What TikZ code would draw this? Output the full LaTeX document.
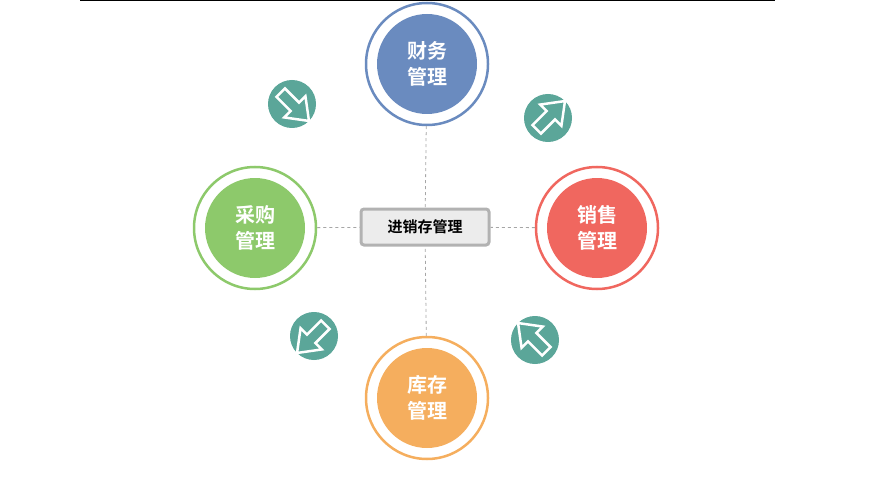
\documentclass[tikz,border=0pt]{standalone}
\usepackage{fontspec}
\setmainfont{Noto Sans CJK SC}
\newfontfamily\cjkb{Noto Sans CJK SC Bold}
\begin{document}
\begin{tikzpicture}[x=1pt,y=-1pt,
  ring/.style={circle,draw=#1,line width=2.5pt,minimum size=122pt,inner sep=0pt},
  disc/.style={circle,fill=#1,minimum size=100pt,inner sep=0pt,text=white,font=\cjkb\fontsize{20}{26}\selectfont,align=center},
  link/.style={draw=gray!70,dashed,line width=0.8pt},
  icon/.pic={
    \fill[teal2] (0,0) circle (24);
    \filldraw[fill=teal2,draw=white,line width=2.5pt] (-16,-6)--(4,-6)--(4,-15)--(24,0)--(4,15)--(4,6)--(-16,6)--cycle;
  }]
\definecolor{teal2}{HTML}{5BA699}
\definecolor{cblue}{HTML}{6A8BBF}
\definecolor{cgreen}{HTML}{8DC96B}
\definecolor{cred}{HTML}{F0675F}
\definecolor{corange}{HTML}{F5AE5E}
\useasboundingbox (0,0) rectangle (874,489);
\draw[line width=1pt] (80,1)--(775,1);
\node[rounded corners=3pt,draw=gray!60,line width=3pt,fill=gray!15,minimum width=128pt,minimum height=36pt,font=\cjkb\fontsize{15}{18}\selectfont] (c) at (425,227) {进销存管理};
\node[ring=cblue] (t) at (427,64) {};
\node[disc=cblue] at (t) {财务\\管理};
\node[ring=cgreen] (l) at (255,228) {};
\node[disc=cgreen] at (l) {采购\\管理};
\node[ring=cred] (r) at (597,228) {};
\node[disc=cred] at (r) {销售\\管理};
\node[ring=corange] (b) at (427,398) {};
\node[disc=corange] at (b) {库存\\管理};
\draw[link] (t) -- (c); \draw[link] (b) -- (c);
\draw[link] (l) -- (c); \draw[link] (r) -- (c);
\pic[rotate=-45] at (292,104) {icon};
\pic[rotate=45] at (548,118) {icon};
\pic[rotate=-135] at (314,336) {icon};
\pic[rotate=135] at (535,340) {icon};
\end{tikzpicture}
\end{document}
